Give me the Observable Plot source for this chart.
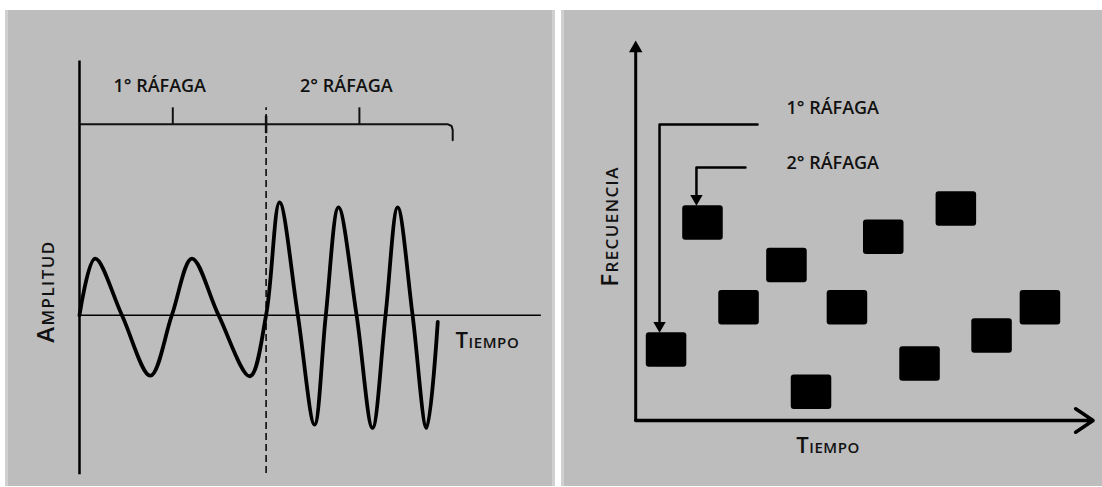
<!DOCTYPE html>
<html>
<head>
<meta charset="utf-8">
<script src="https://cdn.jsdelivr.net/npm/d3@7"></script>
<script src="https://cdn.jsdelivr.net/npm/@observablehq/plot@0.6"></script>
<style>
  html, body { margin: 0; padding: 0; background: #ffffff; }
  body { width: 1102px; height: 487px; position: relative; overflow: hidden; }
  .panel { position: absolute; top: 10px; height: 476px; background: #bdbdbd; }
  #left { left: 5px; width: 550px; box-shadow: inset 3px 0 #d0d0d0, inset -3px 0 #d0d0d0; }
  #right { left: 561px; width: 541px; box-shadow: inset 3px 0 #d0d0d0; }
  .panel svg { position: absolute; left: 0; top: 0; overflow: visible; }
  .panel svg g[font-variant="small-caps"][font-size="22"] text { letter-spacing: 0.6px; }
  .panel svg g[font-variant="small-caps"][font-size="24"] text { letter-spacing: 1.4px; }
</style>
</head>
<body>
<div id="left" class="panel"></div>
<div id="right" class="panel"></div>
<script>
// ---------------- Data: left panel (amplitude vs time) ----------------
// time in burst units (one burst = 2 units), amplitude in arbitrary units
const waveTime = [0, 0.167, 0.455, 0.76, 0.99, 1.205, 1.49, 1.826, 2.0, 2.144, 2.34, 2.519, 2.64, 2.776, 2.97, 3.14, 3.28, 3.41, 3.57, 3.72, 3.84];
const waveAmp  = [0, 1.03, 0, -1.10, 0, 1.03, 0, -1.11, 0, 2.05, 0, -1.99, 0, 1.96, 0, -2.05, 0, 1.96, 0, -2.05, -0.12];
const burstLabels = ["1° RÁFAGA", "2° RÁFAGA"];
const burstLabelTime = [0.86, 2.86];
const burstStart = [0, 2];
const burstEnd = [2, 4];
const burstMid = [1, 3];
const ampAxisExtent = [-2.9, 4.62];
const timeAxisEnd = 4.95;
const bracketLevel = 3.47;
const bracketTickTop = 3.77;
const bracketEndBottom = 3.18;
const labelLevel = 4.16;
const dividerExtent = [-2.88, 3.77];
const leftTimeLabel = {t: 4.03, a: -0.47, text: "Tiempo"};
const leftAmpLabel = {t: -0.36, a: 0.43, text: "Amplitud"};

// ---------------- Data: right panel (frequency vs time) ----------------
const hopTime = [2.55, 5.56, 8.54, 12.5, 14.53, 17.5, 20.5, 23.5, 26.5, 29.45, 33.45];
const hopFreq = [5, 14, 8, 11, 2, 8, 13, 4, 15, 6, 8];
const hopWidth = 3.35;   // time units
const hopHeight = 2.45;  // frequency units
const freqAxisTop = 26.95;
const timeAxisRight = 37.8;
const legendLabels = ["1° RÁFAGA", "2° RÁFAGA"];
const legendTime = [12.46, 12.46];
const legendFreq = [22.13, 18.23];
// leader lines: horizontal from (startT, level) to (cornerT, level), then down to the hop
const leaderStartT = [10.07, 9.07];
const leaderCornerT = [1.97, 5.02];
const leaderLevel = [21.0, 17.94];
const leaderTarget = [0, 1]; // index of hop each leader points to
const rightTimeLabel = {t: 15.9, f: -1.77, text: "Tiempo"};
const rightFreqLabel = {t: -2.08, f: 13.76, text: "Frecuencia"};

const FONT = "'Open Sans', 'DejaVu Sans Condensed', sans-serif";

// ---------------- Left panel ----------------
const wave = waveTime.map((t, i) => ({t, a: waveAmp[i]}));
const bracket = [
  {t: burstStart[0], a: bracketLevel},
  {t: burstEnd[1] - 0.05, a: bracketLevel},
  {t: burstEnd[1] - 0.012, a: bracketLevel - 0.03},
  {t: burstEnd[1], a: bracketLevel - 0.1},
  {t: burstEnd[1], a: bracketEndBottom}
];
const labels = burstLabels.map((s, i) => ({s, t: burstLabelTime[i], a: labelLevel}));

const leftPlot = Plot.plot({
  width: 550,
  height: 476,
  margin: 0,
  x: {type: "linear", domain: [0, 4], range: [74, 447.2], axis: null},
  y: {type: "linear", domain: [0, 2], range: [304.7, 194.7], axis: null},
  style: {background: "transparent", overflow: "visible"},
  marks: [
    Plot.ruleX([0], {y1: ampAxisExtent[0], y2: ampAxisExtent[1], stroke: "#000", strokeWidth: 2.5}),
    Plot.ruleY([0], {x1: 0, x2: timeAxisEnd, stroke: "#000", strokeWidth: 1.5}),
    Plot.ruleX([burstEnd[0]], {y1: dividerExtent[0], y2: dividerExtent[1], stroke: "#000", strokeWidth: 1.5, strokeDasharray: "7,4"}),
    Plot.line(bracket, {x: "t", y: "a", stroke: "#111", strokeWidth: 2}),
    Plot.ruleX(burstMid, {y1: bracketLevel, y2: bracketTickTop, stroke: "#111", strokeWidth: 2}),
    Plot.ruleX([burstEnd[0]], {y1: bracketLevel - 0.17, y2: bracketLevel + 0.15, stroke: "#111", strokeWidth: 2.5}),
    Plot.line(wave, {x: "t", y: "a", stroke: "#000", strokeWidth: 3.8, curve: "catmull-rom", strokeLinejoin: "round", strokeLinecap: "round"}),
    Plot.text(labels, {x: "t", y: "a", text: "s", fontFamily: FONT, fontSize: 18, fontWeight: 600, fill: "#111"}),
    Plot.text([leftTimeLabel], {x: "t", y: "a", text: "text", textAnchor: "start", fontFamily: FONT, fontSize: 22, fontWeight: 600, fontVariant: "small-caps", fill: "#111"}),
    Plot.text([leftAmpLabel], {x: "t", y: "a", text: "text", rotate: -90, fontFamily: FONT, fontSize: 24, fontWeight: 600, fontVariant: "small-caps", fill: "#111"})
  ]
});
document.getElementById("left").appendChild(leftPlot);

// ---------------- Right panel ----------------
const hops = hopTime.map((t, i) => ({t, f: hopFreq[i]}));
const legend = legendLabels.map((s, i) => ({s, t: legendTime[i], f: legendFreq[i]}));
const leaders = leaderStartT.flatMap((t0, i) => {
  const h = hops[leaderTarget[i]];
  const tip = h.f + hopHeight / 2;
  return [
    {id: i, t: t0, f: leaderLevel[i]},
    {id: i, t: leaderCornerT[i], f: leaderLevel[i]},
    {id: i, t: leaderCornerT[i], f: tip + 0.5}
  ];
});
const leaderTips = leaderTarget.map((k, i) => ({t: leaderCornerT[i], f: hops[k].f + hopHeight / 2}));

const rightPlot = Plot.plot({
  width: 541,
  height: 476,
  margin: 0,
  x: {type: "linear", domain: [0, 30], range: [74.2, 437.2], axis: null},
  y: {type: "linear", domain: [0, 10], range: [410, 269], axis: null},
  style: {background: "transparent", overflow: "visible"},
  marks: [
    Plot.rect(hops, {x1: d => d.t - hopWidth / 2, x2: d => d.t + hopWidth / 2, y1: d => d.f - hopHeight / 2, y2: d => d.f + hopHeight / 2, fill: "#000", rx: 3}),
    Plot.ruleX([0], {y1: 0, y2: freqAxisTop - 0.8, stroke: "#000", strokeWidth: 3}),
    Plot.dot([{t: 0, f: freqAxisTop}], {x: "t", y: "f", symbol: "triangle", r: 5, fill: "#000", stroke: null, dy: 7.8}),
    Plot.arrow([{t1: 0, t2: timeAxisRight}], {x1: "t1", x2: "t2", y1: 0, y2: 0, stroke: "#000", strokeWidth: 3.5, headLength: 9, headAngle: 68}),
    Plot.line(leaders, {x: "t", y: "f", z: "id", stroke: "#000", strokeWidth: 2.5}),
    Plot.dot(leaderTips, {x: "t", y: "f", symbol: "triangle", r: 4.6, rotate: 180, fill: "#000", stroke: null, dy: -7.2}),
    Plot.text(legend, {x: "t", y: "f", text: "s", textAnchor: "start", fontFamily: FONT, fontSize: 18, fontWeight: 600, fill: "#111"}),
    Plot.text([rightTimeLabel], {x: "t", y: "f", text: "text", fontFamily: FONT, fontSize: 22, fontWeight: 600, fontVariant: "small-caps", fill: "#111"}),
    Plot.text([rightFreqLabel], {x: "t", y: "f", text: "text", rotate: -90, fontFamily: FONT, fontSize: 24, fontWeight: 600, fontVariant: "small-caps", fill: "#111"})
  ]
});
document.getElementById("right").appendChild(rightPlot);
</script>
</body>
</html>
